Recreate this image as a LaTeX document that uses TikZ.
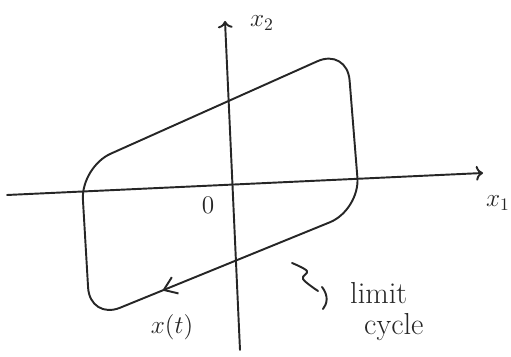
\documentclass[tikz,border=0pt]{standalone}
\usepackage{amsmath, amssymb}
\usepackage{tikz}
\usepackage{xcolor}
\usetikzlibrary{arrows.meta, decorations.markings}

\begin{document}
\begin{tikzpicture}[x=0.02cm, y=-0.02cm,
    ink/.style={line width=1.1pt, black!85, line cap=round, line join=round},
    lbl/.style={black!85, font=\Large}]
  \useasboundingbox (0,0) rectangle (511,357);
  % === Aksene ===
  \coordinate (xa) at (7,195);
  \coordinate (xb) at (483,173);
  \coordinate (ya) at (240,350);
  \coordinate (yb) at (225,21);
  \draw[ink, ->] (xa) -- (xb);
  \draw[ink, ->] (ya) -- (yb);
  \node[lbl] (x1) at (498,203) {$x_1$};
  \node[lbl] (x2) at (262,23) {$x_2$};
  \node[lbl] (o) at (208,205) {$0$};
  % === Grensesyklus (avrundet parallellogram) ===
  \draw[ink, rounded corners=0.65cm,
    postaction={decorate, decoration={markings,
      mark=at position 0.72 with {\arrow{Straight Barb[length=7pt, width=10pt]}}}}]
    (81,167) -- (347,48) -- (360,210) -- (90,320) -- cycle;
  \node[lbl] (xt) at (172,327) {$x(t)$};
  % Krusete pil mot etiketten
  \coordinate (sa) at (292,263);
  \coordinate (sb) at (318,291);
  \draw[ink] plot[smooth, tension=0.6] coordinates {(sa) (307,271) (303,279) (sb)};
  \draw[ink] (322,287) .. controls (329,296) and (327,304) .. (323,309);
  \node[lbl, font=\LARGE, anchor=west] (lim) at (344,293) {limit};
  \node[lbl, font=\LARGE, anchor=west] (cyc) at (358,327) {cycle};
\end{tikzpicture}
\end{document}
